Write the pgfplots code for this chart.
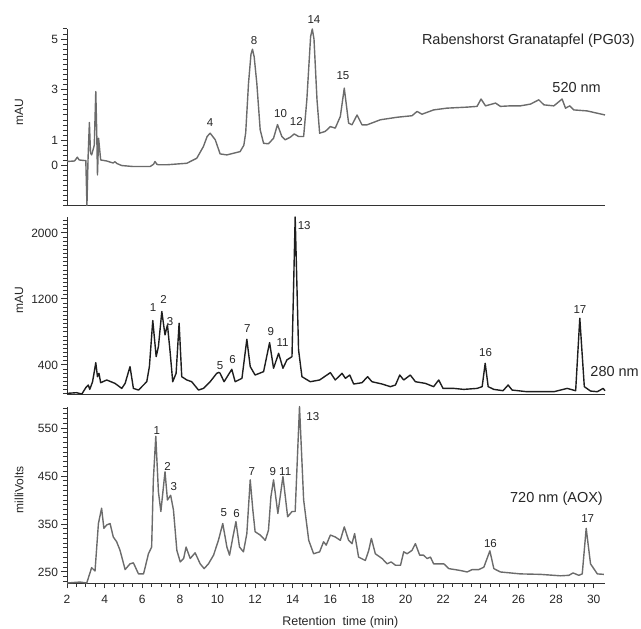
\documentclass[border=0pt]{standalone}
\usepackage{fontspec}
\setmainfont{Liberation Sans}
\usepackage{pgfplots}
\pgfplotsset{compat=1.18}
\definecolor{trgray}{HTML}{6B6B6B}
\definecolor{trdark}{HTML}{1E1E1E}
\definecolor{axcol}{HTML}{333333}
\pgfplotsset{
  chrom/.style={
    scale only axis, width=538bp, xmin=2, xmax=30.6,
    axis x line*=bottom, axis y line*=left,
    axis line style={draw=axcol, line width=1bp, -},
    tick align=outside, major tick length=5.5bp, minor tick length=4bp,
    tick style={axcol, line width=1bp}, clip=false,
    tick label style={font=\fontsize{12bp}{14bp}\selectfont, text=black!85},
    xticklabel style={yshift=-3bp},
    label style={font=\fontsize{12bp}{14bp}\selectfont, text=black!85},
    /pgf/number format/assume math mode=true,
    /pgf/number format/1000 sep={},
    ylabel style={at={(axis description cs:-0.089,0.53)}, anchor=center},
    anchor=south west,
  },
}
\tikzset{pk/.style={font=\fontsize{11.5bp}{13bp}\selectfont, text=black!85, inner sep=0pt}}
\begin{document}
\begin{tikzpicture}
\path[use as bounding box] (0,0) rectangle (641bp,629bp);

% ---------- top panel: 520 nm ----------
\begin{axis}[chrom, at={(67bp,423bp)}, height=177bp,
  ymin=-1.6, ymax=5.4, xtick=\empty,
  ytick={0,1,3,5}, minor ytick={-1.6,-1.4,...,5.41},
  ylabel={mAU}]
\addplot[trgray, line width=1.4bp, line join=round] coordinates {
(2.0,0.16) (2.4,0.18) (2.55,0.33) (2.65,0.22) (2.9,0.2) (3.0,0.2) (3.06,-1.58) (3.12,0.3) (3.19,1.70) (3.25,0.5) (3.31,0.42) (3.45,0.8) (3.53,2.93) (3.58,1.35) (3.62,-0.37) (3.68,1.08) (3.79,0.22) (4.11,0.18) (4.45,0.1) (4.55,0.15) (4.65,0.08) (4.91,0.0) (5.53,-0.04) (6.42,-0.04) (6.6,0.05) (6.68,0.16) (6.78,0.05) (6.86,0.03) (7.3,0.03) (8.37,0.09) (8.9,0.29) (9.25,0.75) (9.45,1.15) (9.61,1.28) (9.88,1.02) (10.14,0.46) (10.5,0.42) (11.2,0.55) (11.4,0.8) (11.5,1.3) (11.65,3.26) (11.78,4.4) (11.86,4.6) (11.95,4.3) (12.09,3.26) (12.27,1.41) (12.45,0.88) (12.71,0.86) (12.98,1.08) (13.19,1.62) (13.42,1.15) (13.6,1.02) (13.87,1.12) (14.08,1.25) (14.31,1.15) (14.58,1.15) (14.75,2.6) (14.95,5.1) (15.04,5.4) (15.13,5.0) (15.29,2.6) (15.43,1.28) (15.73,1.35) (16.0,1.54) (16.26,1.48) (16.53,1.94) (16.74,3.06) (16.97,1.68) (17.15,1.61) (17.42,2.0) (17.68,1.61) (17.95,1.61) (18.66,1.81) (19.55,1.91) (20.34,1.97) (20.61,2.14) (20.87,2.03) (21.49,2.2) (22.2,2.27) (23.27,2.31) (23.8,2.34) (24.01,2.63) (24.25,2.36) (24.78,2.47) (25.04,2.34) (25.57,2.36) (26.1,2.36) (26.64,2.43) (27.08,2.6) (27.35,2.4) (27.88,2.36) (28.32,2.63) (28.5,2.27) (28.73,2.36) (28.94,2.2) (29.65,2.16) (30.6,2.0)
};
\node[pk] at (axis cs:9.61,1.72) {4};
\node[pk] at (axis cs:11.95,4.94) {8};
\node[pk] at (axis cs:13.35,2.04) {10};
\node[pk] at (axis cs:14.19,1.75) {12};
\node[pk] at (axis cs:15.13,5.77) {14};
\node[pk] at (axis cs:16.67,3.56) {15};
\end{axis}

% ---------- middle panel: 280 nm ----------
\begin{axis}[chrom, at={(67bp,234bp)}, height=178bp,
  ymin=36, ymax=2194, xtick=\empty,
  ytick={400,1200,2000}, minor ytick={50,100,...,2150},
  ylabel={mAU}]
\addplot[trdark, line width=1.4bp, line join=round] coordinates {
(2.0,56) (2.51,64) (2.79,48) (3.01,129) (3.13,157) (3.21,104) (3.36,197) (3.53,428) (3.62,258) (3.7,299) (3.79,185) (4.11,218) (4.55,177) (4.91,116) (5.09,177) (5.35,380) (5.53,116) (5.8,96) (6.24,197) (6.38,380) (6.56,939) (6.74,501) (6.86,623) (7.04,1048) (7.21,765) (7.34,886) (7.48,562) (7.62,197) (7.8,299) (7.96,906) (8.1,258) (8.37,218) (8.63,197) (8.99,96) (9.25,116) (9.61,197) (9.96,299) (10.08,310) (10.14,299) (10.35,197) (10.76,347) (10.94,197) (11.3,238) (11.56,712) (11.74,380) (12.0,278) (12.45,319) (12.77,671) (12.98,360) (13.25,542) (13.48,360) (13.69,461) (13.96,501) (14.13,2194) (14.31,582) (14.49,258) (14.93,197) (15.43,218) (16.0,307) (16.26,218) (16.62,299) (16.8,238) (17.03,278) (17.24,169) (17.68,185) (17.98,258) (18.21,197) (18.75,169) (19.19,137) (19.46,157) (19.69,278) (19.9,218) (20.25,278) (20.52,197) (21.05,177) (21.49,137) (21.76,218) (21.99,116) (22.56,116) (23.09,104) (23.8,116) (24.07,137) (24.23,420) (24.39,137) (24.69,104) (25.18,88) (25.45,157) (25.66,96) (26.45,76) (27.88,76) (28.59,116) (29.04,88) (29.26,967) (29.5,137) (29.83,84) (30.19,76) (30.5,116) (30.6,88)
};
\node[pk] at (axis cs:6.58,1097) {1};
\node[pk] at (axis cs:7.14,1194) {2};
\node[pk] at (axis cs:7.48,925) {3};
\node[pk] at (axis cs:10.14,388) {5};
\node[pk] at (axis cs:10.8,467) {6};
\node[pk] at (axis cs:11.58,845) {7};
\node[pk] at (axis cs:12.84,808) {9};
\node[pk] at (axis cs:13.46,669) {11};
\node[pk] at (axis cs:14.61,2085) {13};
\node[pk] at (axis cs:24.25,548) {16};
\node[pk] at (axis cs:29.27,1073) {17};
\end{axis}

% ---------- bottom panel: 720 nm (AOX) ----------
\begin{axis}[chrom, at={(67bp,46bp)}, height=176bp,
  ymin=227, ymax=594,
  xtick={2,4,...,30}, minor x tick num=3,
  ytick={250,350,450,550}, minor ytick={230,240,...,590},
  ylabel={milliVolts},
  xlabel={Retention\ \ time (min)},
  xlabel style={at={(axis description cs:0.508,0)}, anchor=center, yshift=-39bp, font=\fontsize{12.5bp}{14bp}\selectfont}]
\addplot[trgray, line width=1.4bp, line join=round] coordinates {
(2.0,227) (2.69,229) (3.05,227) (3.31,259) (3.49,252) (3.67,351) (3.84,383) (3.96,341) (4.11,348) (4.29,351) (4.46,323) (4.64,313) (4.82,295) (5.09,255) (5.35,267) (5.53,269) (5.8,246) (6.07,246) (6.33,288) (6.5,302) (6.59,442) (6.72,533) (6.86,417) (6.99,376) (7.21,459) (7.34,400) (7.51,410) (7.66,379) (7.84,295) (8.02,271) (8.2,278) (8.33,302) (8.55,278) (8.81,290) (9.08,267) (9.29,257) (9.52,267) (9.79,285) (10.05,316) (10.28,351) (10.5,302) (10.64,285) (10.82,323) (10.98,355) (11.17,302) (11.38,292) (11.56,330) (11.74,442) (11.88,379) (12.0,334) (12.27,327) (12.54,316) (12.71,337) (12.84,407) (12.98,442) (13.21,372) (13.48,449) (13.73,365) (13.96,376) (14.13,376) (14.36,595) (14.58,400) (14.85,316) (15.11,288) (15.43,292) (15.64,313) (15.78,306) (16.0,327) (16.26,323) (16.53,316) (16.74,344) (16.97,316) (17.15,309) (17.29,330) (17.5,281) (17.86,274) (18.04,295) (18.18,320) (18.39,288) (18.75,278) (19.02,267) (19.23,271) (19.46,264) (19.73,264) (19.9,292) (20.08,288) (20.34,295) (20.52,309) (20.75,285) (20.96,285) (21.14,278) (21.32,281) (21.49,267) (22.03,267) (22.3,257) (22.92,253) (23.27,250) (23.54,255) (23.89,255) (24.16,260) (24.48,294) (24.69,257) (25.04,250) (26.1,246) (27.17,245) (28.23,242) (28.68,243) (28.9,248) (29.21,243) (29.39,246) (29.6,341) (29.83,267) (30.19,246) (30.54,245)
};
\node[pk] at (axis cs:6.77,544) {1};
\node[pk] at (axis cs:7.34,470) {2};
\node[pk] at (axis cs:7.68,429) {3};
\node[pk] at (axis cs:10.34,373) {5};
\node[pk] at (axis cs:11.01,371) {6};
\node[pk] at (axis cs:11.83,460) {7};
\node[pk] at (axis cs:12.94,460) {9};
\node[pk] at (axis cs:13.6,460) {11};
\node[pk] at (axis cs:15.07,575) {13};
\node[pk] at (axis cs:24.51,310) {16};
\node[pk] at (axis cs:29.68,361) {17};
\end{axis}

% ---------- annotations ----------
\begin{scope}[every node/.style={font=\fontsize{14.5bp}{17bp}\selectfont, text=black!85, inner sep=0pt, anchor=east}]
\node at (635bp,588bp) {Rabenshorst Granatapfel (PG03)};
\node at (601bp,541.5bp) {520 nm};
\node at (639bp,257.5bp) {280 nm};
\node at (603bp,130bp) {720 nm (AOX)};
\end{scope}
\end{tikzpicture}
\end{document}
